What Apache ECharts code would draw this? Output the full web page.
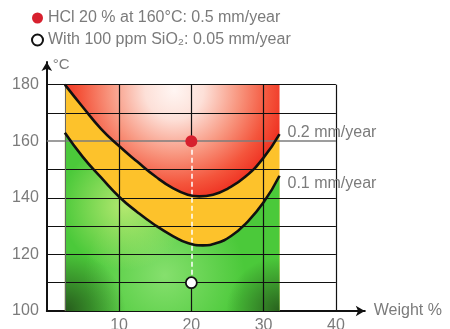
<!DOCTYPE html>
<html>
<head>
<meta charset="utf-8">
<script src="https://cdn.jsdelivr.net/npm/echarts@6/dist/echarts.min.js"></script>
<style>
html,body{margin:0;padding:0;background:#fff;}
#c{width:450px;height:329px;}
</style>
</head>
<body>
<div id="c"></div>
<script>
// iso-corrosion curves [weight %, °C]
const curve02 = [[2.5,180],[5,172],[7.5,164.4],[10,158.3],[12.5,152.8],[15,147.6],[17.5,143.3],[19.5,141.1],[21.1,140.5],[23,141.1],[25,143.2],[27.5,147.5],[30,154.2],[32.2,162.5]];
const curve01 = [[2.5,163],[5,154.4],[7.5,147.2],[10,140.4],[12.5,135],[15,130.3],[17.5,126.4],[19.5,124],[21.6,123.2],[23.5,124],[25.5,126.5],[27.5,130.8],[30,138.4],[32.2,147.8]];
const curveLabels = ['0.2 mm/year', '0.1 mm/year'];
const pointHCl = [[20,160]];
const pointSiO2 = [[20,110]];
const legendNames = ['HCl 20 % at 160°C: 0.5 mm/year', 'With 100 ppm SiO₂: 0.05 mm/year'];
const xTicks = [10,20,30,40];
const yGridTicks = [110,120,130,140,150,160,170,180];
const yLabelStep = 20;
const xLimits = [0, 40];
const yLimits = [100, 180];
const regionX = [2.5, 32.2];
const axisNames = ['Weight %', '°C'];

const font = 'Liberation Sans';
const gray = '#7b7b7b';

// grid line segments built from the tick arrays
const gridLines = [];
yGridTicks.forEach(function (v) {
  gridLines.push({coords: [[xLimits[0], v], [xLimits[1], v]],
    lineStyle: v === pointHCl[0][1] ? {color: '#7d7d7d', width: 1.6} : {color: '#111', width: 1.2}});
});
xTicks.forEach(function (v) {
  if (v === pointHCl[0][0]) {
    gridLines.push({coords: [[v, yLimits[0]], [v, pointSiO2[0][1]]], lineStyle: {color: '#111', width: 1.2}});
    gridLines.push({coords: [[v, pointHCl[0][1]], [v, yLimits[1]]], lineStyle: {color: '#111', width: 1.2}});
    gridLines.push({coords: [[v, pointSiO2[0][1]], [v, pointHCl[0][1]]], lineStyle: {color: '#fff', width: 1.5, type: [5, 3]}});
  } else {
    gridLines.push({coords: [[v, yLimits[0]], [v, yLimits[1]]], lineStyle: {color: '#111', width: 1.2}});
  }
});
gridLines.push({coords: [[regionX[0], yLimits[0]], [regionX[0], yLimits[1]]], lineStyle: {color: '#666', width: 1}});

function RG(x, y, r, c0, c1) {
  return new echarts.graphic.RadialGradient(x, y, r, [{offset: 0, color: c0}, {offset: 1, color: c1}]);
}
function areaSeries(data, origin, color) {
  return {type: 'line', data: data, smooth: true, showSymbol: false, silent: true,
    lineStyle: {width: 0}, areaStyle: {origin: origin, opacity: 1, color: color}, z: 1};
}

const chart = echarts.init(document.getElementById('c'), null, {renderer: 'canvas'});
chart.setOption({
  animation: false,
  textStyle: {fontFamily: font},
  legend: {
    orient: 'vertical', left: 26, top: 5, itemGap: 6,
    itemWidth: 11, itemHeight: 11, icon: 'circle',
    data: legendNames,
    textStyle: {fontSize: 16, color: gray, fontFamily: font}
  },
  grid: {left: 46.8, top: 62, width: 318, height: 249, containLabel: false, outerBoundsMode: 'none'},
  xAxis: {
    type: 'value', min: 0, max: 44, interval: 10,
    name: axisNames[0], nameLocation: 'end', nameGap: 9,
    nameTextStyle: {fontSize: 16, color: gray, verticalAlign: 'middle', padding: [0, 0, 14, 0]},
    axisLine: {lineStyle: {color: '#111', width: 2}, symbol: ['none', 'arrow'], symbolSize: [8, 9]},
    axisTick: {show: false},
    splitLine: {show: false},
    axisLabel: {fontSize: 16, color: gray, margin: 7, showMinLabel: false, showMaxLabel: false}
  },
  yAxis: {
    type: 'value', min: yLimits[0], max: 188, interval: yLabelStep,
    name: axisNames[1], nameLocation: 'end', nameGap: -3,
    nameTextStyle: {fontSize: 15, color: gray, align: 'left', verticalAlign: 'middle', padding: [0, 0, 0, 6]},
    axisLine: {lineStyle: {color: '#111', width: 2}, symbol: ['none', 'arrow'], symbolSize: [8, 9]},
    axisTick: {show: false},
    splitLine: {show: false},
    axisLabel: {fontSize: 16, color: gray, margin: 8, showMaxLabel: false}
  },
  series: [
    areaSeries(curve02, yLimits[1], new echarts.graphic.RadialGradient(0.51, 0.05, 1.05, [
        {offset: 0, color: '#fff6f3'}, {offset: 0.25, color: '#fde0d8'},
        {offset: 0.55, color: '#f8967f'}, {offset: 0.8, color: '#f4553c'}, {offset: 1, color: '#ee2a1c'}])),
    areaSeries(curve02, 'start', '#fdc22b'),
    areaSeries(curve01, 'start', '#4bc93a'),
    areaSeries(curve01, 'start', RG(0.465, 0.80, 0.45, 'rgba(140,226,115,0.9)', 'rgba(140,226,115,0)')),
    areaSeries(curve01, 'start', RG(0.28, 0.41, 0.36, 'rgba(192,236,118,0.9)', 'rgba(192,236,118,0)')),
    areaSeries(curve01, 'start', RG(0, 1, 0.34, 'rgba(34,78,24,0.9)', 'rgba(34,78,24,0)')),
    areaSeries(curve01, 'start', RG(1, 1, 0.3, 'rgba(34,78,24,0.85)', 'rgba(34,78,24,0)')),
    {
      type: 'lines', coordinateSystem: 'cartesian2d', data: gridLines, silent: true, z: 3,
      lineStyle: {opacity: 1}
    },
    {
      type: 'line', data: curve02, smooth: true, showSymbol: false, silent: true, z: 4,
      lineStyle: {color: '#111', width: 2.6},
      endLabel: {show: true, formatter: curveLabels[0], color: gray, fontSize: 16, distance: 8, offset: [0, -2]}
    },
    {
      type: 'line', data: curve01, smooth: true, showSymbol: false, silent: true, z: 4,
      lineStyle: {color: '#111', width: 2.6},
      endLabel: {show: true, formatter: curveLabels[1], color: gray, fontSize: 16, distance: 8, offset: [0, 8]}
    },
    {
      name: legendNames[0], type: 'scatter', data: pointHCl, symbol: 'circle', symbolSize: 12, z: 5,
      itemStyle: {color: '#d7202e', opacity: 1}
    },
    {
      name: legendNames[1], type: 'scatter', data: pointSiO2, symbol: 'circle', symbolSize: 11, z: 5,
      itemStyle: {color: '#fff', borderColor: '#111', borderWidth: 1.8, opacity: 1}
    }
  ]
});
</script>
</body>
</html>
